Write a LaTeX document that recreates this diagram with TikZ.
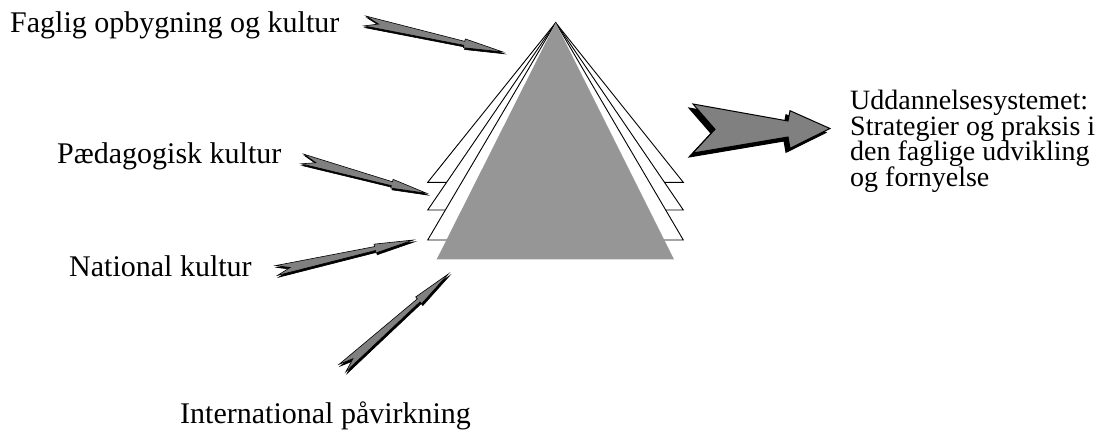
\documentclass[tikz,border=0pt]{standalone}
\usepackage{fontspec}
\setmainfont{Liberation Serif}
\usetikzlibrary{calc}
\definecolor{trigray}{RGB}{150,150,150}
\definecolor{arrgray}{RGB}{128,128,128}
\tikzset{
  lbl/.style={anchor=base west, inner sep=0pt, font=\fontsize{30}{25}\selectfont},
  rlbl/.style={anchor=base west, inner sep=0pt, font=\fontsize{28}{25}\selectfont},
  whitetri/.style={fill=white, draw=black, line width=0.9pt, line join=miter},
  graytri/.style={fill=trigray, draw=none},
  dartface/.style={fill=arrgray, draw=black, line width=0.6pt, line join=miter},
  dartshadow/.style={fill=black, draw=black, line width=0.6pt},
  bigface/.style={fill=arrgray, draw=black, line width=1pt, line join=miter},
  bigshadow/.style={fill=black, draw=black, line width=1pt}
}
% feathered dart from tail (#1,#2) to tip (#3,#4), pixel coordinates
\newcommand{\featherdart}[4]{%
  \pgfmathsetmacro{\dang}{atan2(#2-#4,#3-#1)}%
  \pgfmathsetmacro{\dlen}{veclen(#3-#1,#4-#2)}%
  \pgfmathsetmacro{\dhb}{0.72*\dlen}%
  \begin{scope}[shift={(#1+1.2,#2+1.8)},rotate=\dang]
    \path[dartshadow] (0,5) -- (\dhb,2) -- (\dhb,4.5) -- (\dlen,0) -- (\dhb,-4.5) -- (\dhb,-2) -- (0,-5) -- (14,0) -- cycle;
  \end{scope}
  \begin{scope}[shift={(#1,#2)},rotate=\dang]
    \path[dartface] (0,5) -- (\dhb,2) -- (\dhb,4.5) -- (\dlen,0) -- (\dhb,-4.5) -- (\dhb,-2) -- (0,-5) -- (14,0) -- cycle;
  \end{scope}
}
\begin{document}
\begin{tikzpicture}[x=1pt,y=-1pt]
\useasboundingbox (0,0) rectangle (1114,432);

% pyramid layers
\coordinate (apex) at (555.7,22.7);
\path[whitetri] (apex) -- (427.7,182.3) -- (683.3,182.3) -- cycle;
\path[whitetri] (apex) -- (427.7,210) -- (683.3,210) -- cycle;
\path[whitetri] (apex) -- (427.7,240) -- (683.3,240) -- cycle;
\path[graytri] (apex) -- (436.7,259.3) -- (674,259.3) -- cycle;

% big output arrow
\begin{scope}[shift={(-4,4)}]
\path[bigshadow] (693,104) -- (788,121) -- (790,110.7) -- (830,128.5) -- (790,148.3) -- (788,137) -- (693,153) -- (715,129.3) -- cycle;
\end{scope}
\path[bigface] (693,104) -- (788,121) -- (790,110.7) -- (830,128.5) -- (790,148.3) -- (788,137) -- (693,153) -- (715,129.3) -- cycle;

% input darts
\featherdart{365}{21}{503}{52}
\featherdart{302.5}{159}{426.7}{193.3}
\featherdart{276.5}{270.5}{413.3}{240}
\featherdart{342.5}{368}{448.3}{274}

% labels
\node[lbl] (faglig) at (10,32) {Faglig opbygning og kultur};
\node[lbl] (paed) at (57,163) {Pædagogisk kultur};
\node[lbl] (nat) at (69,276) {National kultur};
\node[lbl] (intl) at (180,423) {International påvirkning};
\node[rlbl] (udd1) at (850,109.5) {Uddannelsesystemet:};
\node[rlbl] (udd2) at (850,135) {Strategier og praksis i};
\node[rlbl] (udd3) at (850,160.5) {den faglige udvikling};
\node[rlbl] (udd4) at (850,186) {og fornyelse};
\end{tikzpicture}
\end{document}
